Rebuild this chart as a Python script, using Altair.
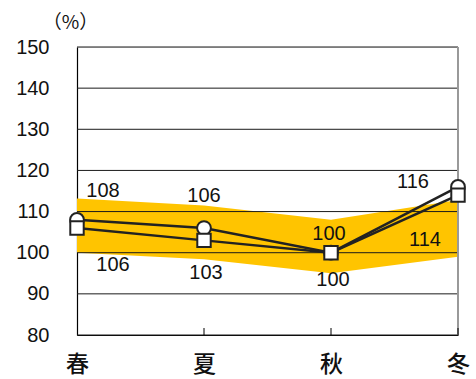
import altair as alt
import pandas as pd

# Seasonal index (%) for two series plus a shaded range
seasons = ["春", "夏", "秋", "冬"]
circle_vals = [108, 106, 100, 116]
square_vals = [106, 103, 100, 114]
band_high = [113.2, 111.5, 108.0, 112.8]
band_low = [100.0, 98.4, 95.0, 99.0]
y_ticks = [80, 90, 100, 110, 120, 130, 140, 150]

W, H = 381, 288

pts = pd.DataFrame(
    [{"season": s, "series": "circle", "value": v} for s, v in zip(seasons, circle_vals)]
    + [{"season": s, "series": "square", "value": v} for s, v in zip(seasons, square_vals)]
)
band = pd.DataFrame({"season": seasons, "low": band_low, "high": band_high})
grid = pd.DataFrame({"y": y_ticks})
tick_df = pd.DataFrame({"season": seasons[1:]})

x_enc = alt.X(
    "season:N",
    sort=seasons,
    scale=alt.Scale(type="point", padding=0, domain=seasons),
    axis=alt.Axis(
        title=None, labelAngle=0, ticks=False, grid=False, domain=True,
        domainColor="#000", domainWidth=1.2, labelPadding=18,
        labelFont="Noto Sans CJK JP", labelFontSize=23, labelFontWeight=500,
        labelColor="#111",
    ),
)
y_scale = alt.Scale(domain=[80, 150], nice=False, zero=False)

band_layer = alt.Chart(band).mark_area(color="#FFC400", opacity=1, interpolate="linear").encode(
    x=x_enc,
    y=alt.Y(
        "low:Q", scale=y_scale,
        axis=alt.Axis(
            values=y_ticks, grid=False, ticks=False, domain=True,
            domainColor="#000", domainWidth=1.2, labelPadding=28,
            labelFont="Liberation Sans", labelFontSize=20, labelColor="#111",
            title="（%）", titleAngle=0, titleX=-7, titleY=-25,
            titleAlign="center", titleBaseline="middle",
            titleFont="Noto Sans CJK JP", titleFontSize=19, titleFontWeight="normal",
            titleColor="#111",
        ),
    ),
    y2="high:Q",
)

grid_layer = alt.Chart(grid).mark_rule(color="#1a1a1a", strokeWidth=1).encode(
    y=alt.Y("y:Q", scale=y_scale),
    x=alt.value(0),
    x2=alt.value(W),
)

right_edge = alt.Chart(grid).mark_rule(color="#999999", strokeWidth=1).encode(
    x=alt.value(W), y=alt.value(0), y2=alt.value(H)
)

ticks_layer = alt.Chart(tick_df).mark_rule(color="#000", strokeWidth=1).encode(
    x=alt.X("season:N", sort=seasons, scale=alt.Scale(type="point", padding=0, domain=seasons)),
    y=alt.value(H - 7),
    y2=alt.value(H),
)

lines = alt.Chart(pts).mark_line(color="#222", strokeWidth=2.5).encode(
    x=alt.X("season:N", sort=seasons),
    y=alt.Y("value:Q", scale=y_scale),
    detail="series:N",
)

circles = alt.Chart(pts).transform_filter(alt.datum.series == "circle").mark_point(
    shape="circle", filled=True, fill="white", stroke="#222", strokeWidth=2, size=190, opacity=1
).encode(x=alt.X("season:N", sort=seasons), y=alt.Y("value:Q", scale=y_scale))

squares = alt.Chart(pts).transform_filter(alt.datum.series == "square").mark_point(
    shape="square", filled=True, fill="white", stroke="#222", strokeWidth=2, size=180, opacity=1
).encode(x=alt.X("season:N", sort=seasons), y=alt.Y("value:Q", scale=y_scale))

# label placement around each marker (pixels)
label_offsets = {
    ("circle", "春"): (26, -29), ("circle", "夏"): (0, -32),
    ("circle", "秋"): (-2, -19), ("circle", "冬"): (-45, -5),
    ("square", "春"): (36, 37), ("square", "夏"): (2, 33),
    ("square", "秋"): (2, 27), ("square", "冬"): (-33, 45),
}
labels = []
for (series, season), (dx, dy) in label_offsets.items():
    labels.append(
        alt.Chart(pts)
        .transform_filter((alt.datum.series == series) & (alt.datum.season == season))
        .mark_text(font="Liberation Sans", fontSize=20, color="#111", dx=dx, dy=dy)
        .encode(
            x=alt.X("season:N", sort=seasons),
            y=alt.Y("value:Q", scale=y_scale),
            text=alt.Text("value:Q", format="d"),
        )
    )

chart = alt.layer(
    band_layer, grid_layer, right_edge, ticks_layer, lines, circles, squares, *labels
).properties(
    width=W, height=H,
    autosize=alt.AutoSizeParams(type="none"),
    padding={"left": 77, "top": 47, "right": 18, "bottom": 44},
).configure_view(stroke=None).configure(background="white")

chart.save("out.html", embed_options={"renderer": "svg", "actions": False})
